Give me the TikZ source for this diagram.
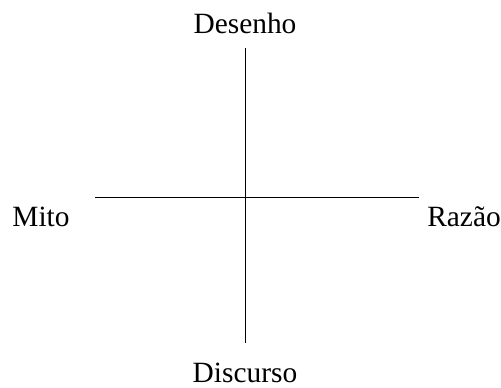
\documentclass[tikz,border=0pt]{standalone}
\usepackage{fontspec}
\setmainfont{Liberation Serif}
\usetikzlibrary{calc}

\begin{document}
\begin{tikzpicture}[x=0.5pt,y=-0.5pt]

\begin{scope}[line width=0.65pt,font=\fontsize{14.7}{14.7}\selectfont]
\useasboundingbox (0,0) rectangle (501,387);
\coordinate (top) at (245.5,48);
\coordinate (bottom) at (245.5,343);
\coordinate (left) at (95,197.5);
\coordinate (right) at (419,197.5);
\draw (top)--(bottom);
\draw (left)--(right);
\node [anchor=base] (desenho) at (245,33) {Desenho};
\node [anchor=base] (discurso) at (245,382) {Discurso};
\node [anchor=base] (mito) at (41,226) {Mito};
\node [anchor=base] (razao) at (464,226) {Razão};
\end{scope}

\end{tikzpicture}
\end{document}
